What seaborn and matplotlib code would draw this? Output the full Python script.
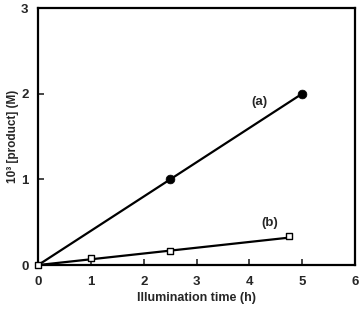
import matplotlib
matplotlib.use("Agg")
import matplotlib.pyplot as plt
import seaborn as sns
import pandas as pd

# data
time_a = [0, 2.5, 5]
prod_a = [0, 1.0, 2.0]
time_b = [0, 1, 2.5, 4.75]
prod_b = [0, 0.08, 0.16, 0.34]
fit_b_time = [0, 4.75]
fit_b_prod = [0, 0.32]

sns.set_style("ticks")
plt.rcParams['font.family'] = ['Liberation Sans', 'DejaVu Sans']
plt.rcParams['font.weight'] = 'bold'

df_a = pd.DataFrame({"t": time_a, "p": prod_a})
df_b = pd.DataFrame({"t": time_b, "p": prod_b})
df_fit = pd.DataFrame({"t": fit_b_time, "p": fit_b_prod})

fig = plt.figure(figsize=(3.6, 3.1), dpi=100)
ax = fig.add_axes([0.106, 0.145, 0.88, 0.829])

sns.lineplot(data=df_a, x="t", y="p", color="black", lw=1.6, ax=ax)
sns.scatterplot(data=df_a.iloc[1:], x="t", y="p", color="black", s=40, edgecolor="black", ax=ax, zorder=3)
sns.lineplot(data=df_fit, x="t", y="p", color="black", lw=1.6, ax=ax)
sns.scatterplot(data=df_b, x="t", y="p", marker="s", facecolor="white", edgecolor="black",
                linewidth=1, s=22, ax=ax, zorder=4, clip_on=False)

ax.text(4.2, 1.9, "(a)", fontsize=9.5, fontweight="bold", ha="center", va="center")
ax.text(4.39, 0.49, "(b)", fontsize=9.5, fontweight="bold", ha="center", va="center")

ax.set_xlim(0, 6)
ax.set_ylim(0, 3)
ax.set_xticks([0, 1, 2, 3, 4, 5, 6])
ax.set_yticks([0, 1, 2, 3])
ax.tick_params(direction="in", length=4, width=1.2, labelsize=9.5)
ax.tick_params(axis="x", pad=8)
ax.tick_params(axis="y", pad=7)
for lab in ax.get_xticklabels() + ax.get_yticklabels():
    lab.set_fontweight("bold")
for s in ax.spines.values():
    s.set_linewidth(1.6)
    s.set_color("black")
ax.set_xlabel("Illumination time (h)", fontsize=9, fontweight="bold", labelpad=3)
ax.set_ylabel("10³ [product] (M)", fontsize=8.5, fontweight="bold")
ax.yaxis.set_label_coords(-0.062, 0.5)

fig.savefig("out.png", dpi=100)
